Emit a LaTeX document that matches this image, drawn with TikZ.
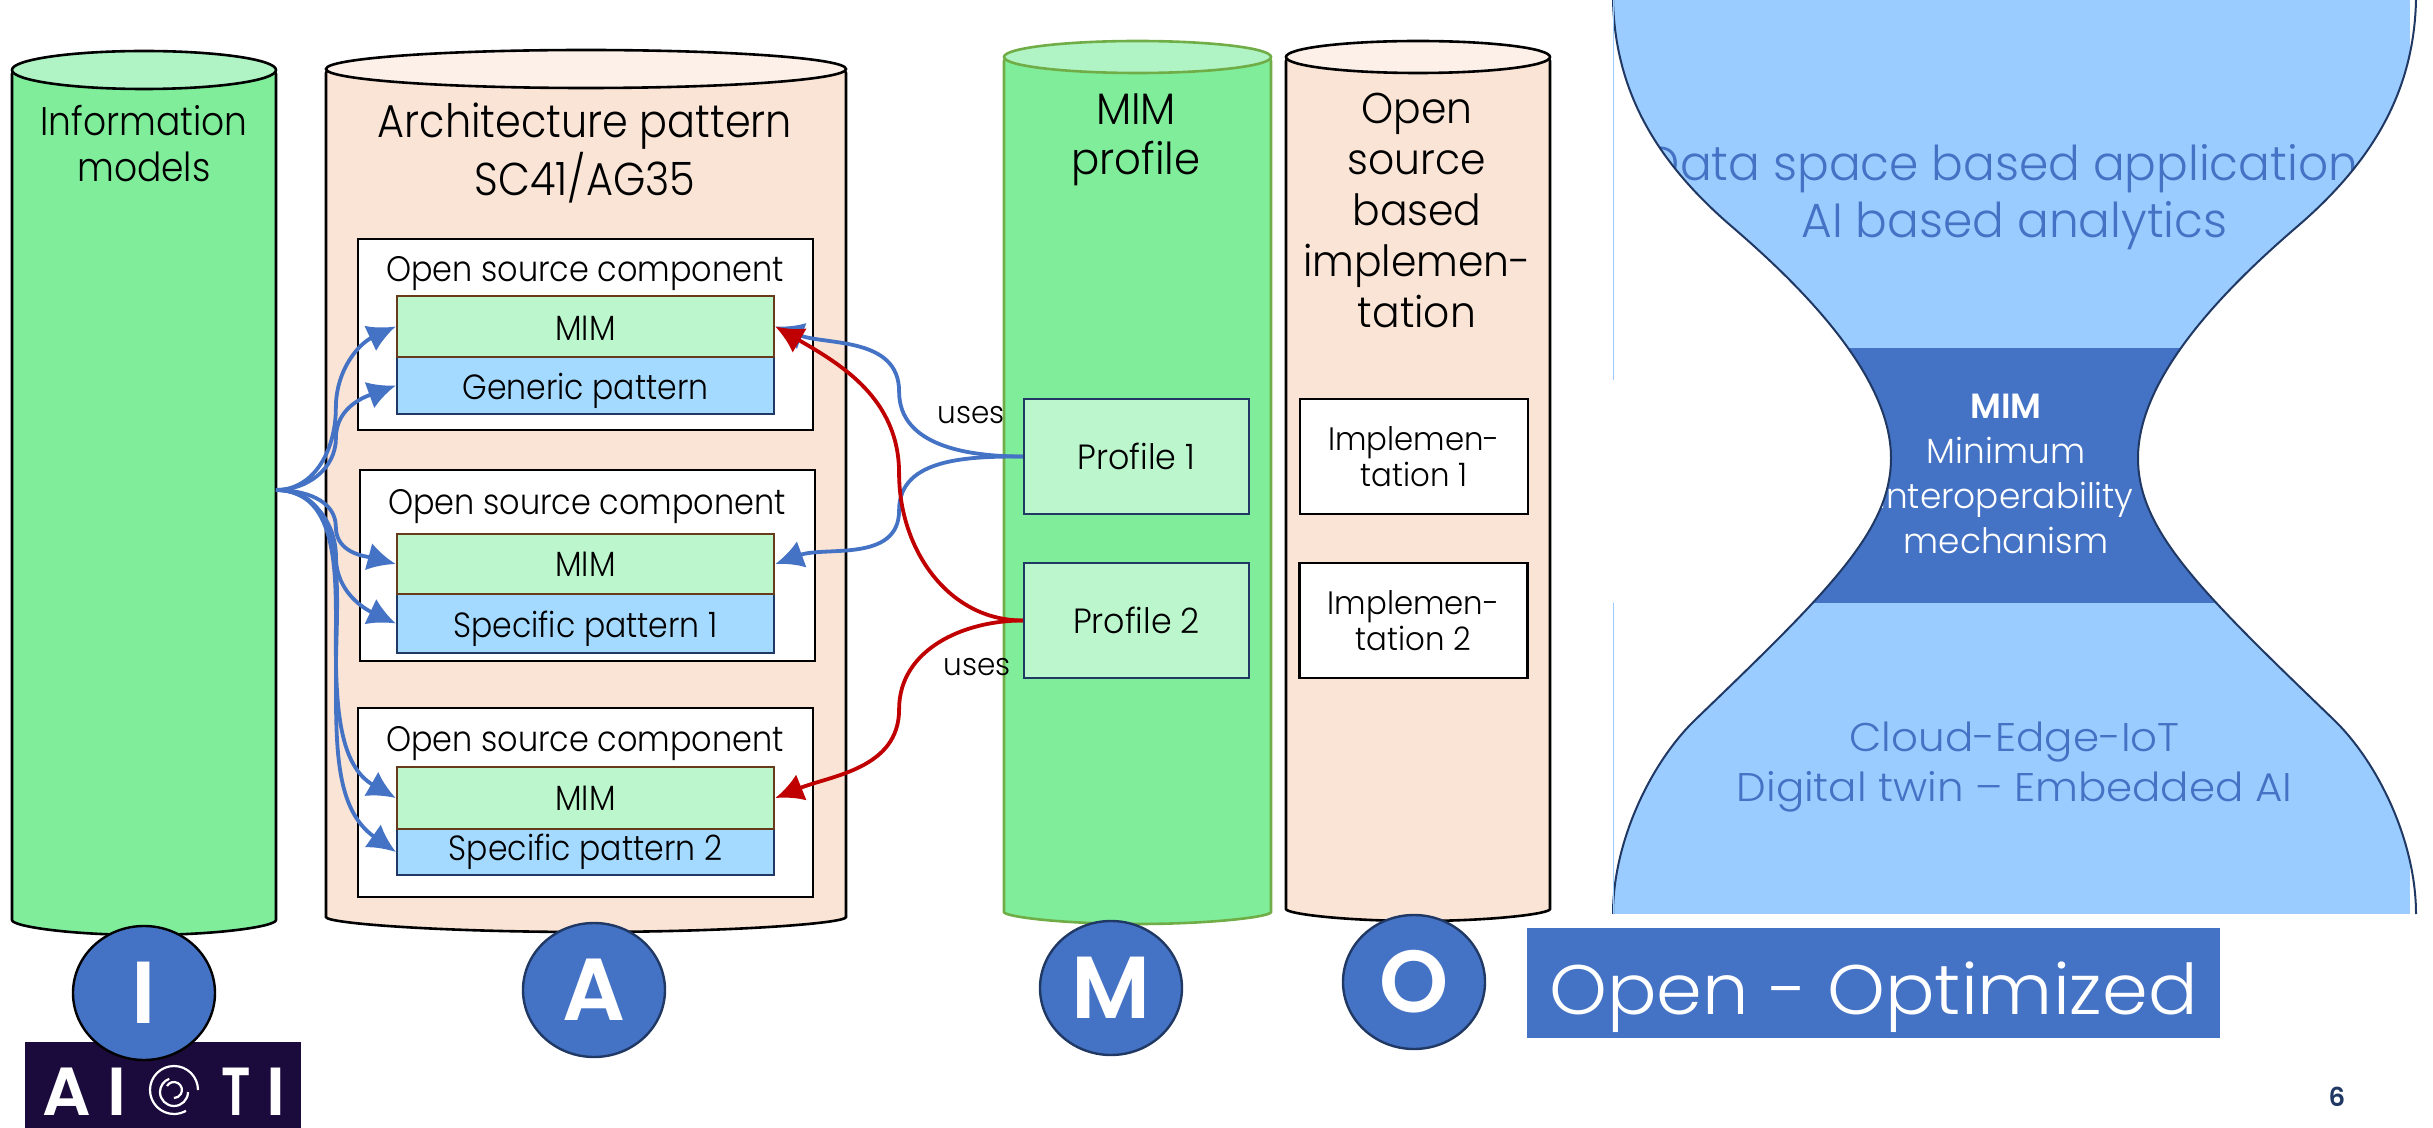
\documentclass[tikz,border=0pt]{standalone}
\usepackage{fontspec}
\setmainfont{Poppins Light}[BoldFont=Poppins SemiBold]
\newfontfamily\narrowfont{Poppins Light}[FakeStretch=0.9]
\newfontfamily\midfont{Poppins Light}[FakeStretch=0.95]
\newfontfamily\widefont{Poppins Light}[FakeStretch=1.05,BoldFont=Poppins SemiBold]
\newfontfamily\evenfont{Poppins Light}[FakeStretch=0.98,BoldFont=Poppins SemiBold]
\newfontfamily\badgefont{Poppins SemiBold}
\usetikzlibrary{arrows.meta,calc,shapes.geometric}

\definecolor{cylgreen}{HTML}{7FED9A}
\definecolor{cylgreentop}{HTML}{B0F4C6}
\definecolor{cylpeach}{HTML}{FAE4D6}
\definecolor{cylpeachtop}{HTML}{FDF0E8}
\definecolor{mimgreen}{HTML}{BBF6CC}
\definecolor{patblue}{HTML}{A4DAFF}
\definecolor{hourblue}{HTML}{9BCCFF}
\definecolor{mainblue}{HTML}{4472C4}
\definecolor{navyline}{HTML}{203864}
\definecolor{brownline}{HTML}{663A1A}
\definecolor{logopurple}{HTML}{1B0A3C}
\definecolor{usesred}{HTML}{C00000}
\definecolor{leafgreen}{HTML}{70AD47}

\tikzset{
	compbox/.style={draw=black,fill=white,line width=1.3pt,inner sep=0pt,minimum width=227.5pt},
	mimbox/.style={draw=brownline,fill=mimgreen,line width=1.3pt,inner sep=0pt,minimum width=188.5pt,font=\narrowfont\fontsize{17.5}{20}\selectfont},
	patbox/.style={draw=navyline,fill=patblue,line width=1.1pt,inner sep=0pt,minimum width=188.5pt,font=\narrowfont\fontsize{17.5}{20}\selectfont},
	profilebox/.style={draw=navyline,fill=mimgreen,line width=1.1pt,inner sep=0pt,minimum width=112.5pt,minimum height=57.5pt,font=\midfont\fontsize{17.5}{20}\selectfont},
	implbox/.style={draw=black,fill=white,line width=1.3pt,inner sep=0pt,minimum width=114pt,minimum height=57.5pt,align=center,font=\midfont\fontsize{16.2}{18}\selectfont},
	comptitle/.style={font=\narrowfont\fontsize{17.7}{20}\selectfont},
	badge/.style={draw=#1,fill=mainblue,line width=1.2pt,ellipse,inner sep=0pt,minimum width=71pt,minimum height=67pt,text=white,font=\badgefont\fontsize{44}{44}\selectfont},
	logoletter/.style={text=white,inner sep=0pt,font=\badgefont\fontsize{34}{34}\selectfont},
	blueuse/.style={draw=mainblue,line width=1.9pt,-{Latex[length=14pt,width=14pt]}},
	reduse/.style={draw=usesred,line width=1.9pt,-{Latex[length=14pt,width=14pt]}},
	usestext/.style={inner sep=0pt,font=\midfont\fontsize{15.5}{16}\selectfont},
}

% left, right, top, bottom, y radius, body, lid, line
\newcommand{\cylbody}[8]{
	\filldraw[fill=#6,draw=#8,line width=1.3pt,rounded corners=2pt] (#1,#3)--(#1,#4)
		arc[start angle=180,end angle=0,x radius={(#2-#1)/2},y radius=#5]--(#2,#3)--cycle;
	\filldraw[fill=#7,draw=#8,line width=1.3pt] ({(#1+#2)/2},#3) ellipse [x radius={(#2-#1)/2},y radius=#5];
}
\newcommand{\hourside}{(1613,0) .. controls (1615,90) and (1655,160) .. (1730,225)
	.. controls (1800,285) and (1891,375) .. (1891,458)
	.. controls (1891,530) and (1830,590) .. (1696,719)
	.. controls (1652,761) and (1613,840) .. (1613,914)}

\begin{document}
\begin{tikzpicture}[x=0.5pt,y=-0.5pt]
	\useasboundingbox (0,0) rectangle (2433,1128);

	\cylbody{12}{276}{70}{916}{19}{cylgreen}{cylgreentop}{black}
	\cylbody{326}{846}{69}{913}{19}{cylpeach}{cylpeachtop}{black}
	\cylbody{1004}{1271}{57}{908}{16}{cylgreen}{cylgreentop}{leafgreen}
	\cylbody{1286}{1550}{57}{905}{16}{cylpeach}{cylpeachtop}{black}

	\node[align=center,font=\narrowfont\fontsize{20}{23}\selectfont] (infoTitle) at (144,144) {Information\\models};
	\node[align=center,font=\narrowfont\fontsize{23}{24}\selectfont] (archTitle) at (585,153) {Architecture pattern\\SC41/AG35};
	\node[align=center,font=\midfont\fontsize{22}{25}\selectfont] (mimTitle) at (1136,140) {MIM\\profile};
	\node[align=center,font=\midfont\fontsize{21.5}{25.5}\selectfont] (openTitle) at (1417,210) {Open\\source\\based\\implemen-\\tation};

	\node[compbox,minimum height=95.5pt] (compA) at (585.5,334.5) {};
	\node[compbox,minimum height=95.5pt] (compB) at (587.5,565.5) {};
	\node[compbox,minimum height=94.5pt] (compC) at (585.5,802.5) {};
	\node[comptitle] (titleA) at (585,274) {Open source component};
	\node[comptitle] (titleB) at (587,507) {Open source component};
	\node[comptitle] (titleC) at (585,744) {Open source component};

	\node[patbox,minimum height=28.5pt,text height=17.5pt,text depth=3.7pt] (genericA) at (585.5,385.5) {Generic pattern};
	\node[mimbox,minimum height=30.5pt,text height=14pt,text depth=0pt] (mimA) at (585.5,326.5) {MIM};
	\node[patbox,minimum height=29.5pt,text height=17.5pt,text depth=3.7pt] (specificB) at (585.5,623.5) {Specific pattern 1};
	\node[mimbox,minimum height=30pt] (mimB) at (585.5,564) {MIM};
	\node[patbox,minimum height=23pt] (specificC) at (585.5,852) {Specific pattern 2};
	\node[mimbox,minimum height=31pt] (mimC) at (585.5,798) {MIM};

	\node[profilebox] (profileA) at (1136.5,456.5) {Profile 1};
	\node[profilebox] (profileB) at (1136.5,620.5) {Profile 2};
	\node[implbox] (implA) at (1414,456.5) {Implemen-\\tation 1};
	\node[implbox] (implB) at (1413.5,620.5) {Implemen-\\tation 2};

	\coordinate (infoOut) at (276,490);
	\foreach \target/\inangle in {mimA/205,genericA/200}
		\draw[blueuse] (infoOut) to[out=0,in=-90] ($(infoOut)!.5!(\target.west)$) to[out=90,in=\inangle] (\target.west);
	\foreach \target/\inangle in {mimB/165,specificB/155,mimC/150,specificC/145}
		\draw[blueuse] (infoOut) to[out=0,in=90] ($(infoOut)!.5!(\target.west)$) to[out=-90,in=\inangle] (\target.west);

	\draw[blueuse] (profileA.west) to[out=180,in=-90] ($(profileA.west)!.5!(mimA.east)$) to[out=90,in=-20] (mimA.east);
	\draw[blueuse] (profileA.west) to[out=180,in=90] ($(profileA.west)!.5!(mimB.east)$) to[out=-90,in=20] (mimB.east);
	\draw[reduse] (profileB.west) to[out=180,in=-90] ($(profileB.west)!.5!(mimA.east)$) to[out=90,in=-30] (mimA.east);
	\draw[reduse] (profileB.west) to[out=180,in=90] ($(profileB.west)!.5!(mimC.east)$) to[out=-90,in=22] (mimC.east);
	\node[usestext] (usesA) at (971,415) {uses};
	\node[usestext] (usesB) at (977,667) {uses};

	% hourglass, the white sides lie over the text
	\fill[hourblue] (1613,0) rectangle (2410,914);
	\fill[mainblue] (1780,348) rectangle (2250,603);
	\node[align=center,text=mainblue,font=\evenfont\fontsize{24}{28.5}\selectfont] (topText) at (2014.5,197) {Data space based applications\\AI based analytics};
	\node[align=center,text=white,font=\evenfont\fontsize{17.5}{22.5}\selectfont] (midText) at (2006,474) {\textbf{MIM}\\Minimum\\Interoperability\\mechanism};
	\node[align=center,text=mainblue,font=\widefont\fontsize{20}{25}\selectfont] (lowText) at (2014.5,767) {Cloud-Edge-IoT\\Digital twin – Embedded AI};
	\fill[white] \hourside--cycle;
	\draw[navyline,line width=1pt] \hourside;
	\begin{scope}[shift={(4029,0)},xscale=-1]
		\fill[white] \hourside--cycle;
		\draw[navyline,line width=1pt] \hourside;
	\end{scope}
	\draw[hourblue,line width=0.5pt] (1613,0)--(1613,380);
	\draw[hourblue,line width=0.5pt] (1613,603)--(1613,914);

	\node[fill=mainblue,text=white,inner sep=0pt,minimum width=346.5pt,minimum height=55pt,text height=38pt,text depth=7pt,font=\widefont\fontsize{35}{40}\selectfont] (banner) at (1873.5,983) {Open - Optimized};

	% logo
	\fill[logopurple] (25,1042) rectangle (301,1128);
	\node[logoletter] (logoA) at (67,1092) {A};
	\node[logoletter] (logoI) at (117,1092) {I};
	\node[logoletter] (logoT) at (236,1092) {\scalebox{.75}[1]{T}};
	\node[logoletter] (logoJ) at (276,1092) {I};
	\draw[white,line width=1.1pt] (198,1090) arc[start angle=0,end angle=-300,radius=24];
	\draw[white,line width=1.1pt] (188,1092) arc[start angle=0,end angle=250,radius=14];
	\draw[white,line width=1.1pt] (167,1086) arc[start angle=-150,end angle=90,radius=8];

	\node[badge=black] (badgeI) at (144,993) {I};
	\node[badge=navyline] (badgeA) at (594,990) {A};
	\node[badge=navyline] (badgeM) at (1111,988) {M};
	\node[badge=navyline] (badgeO) at (1414,982) {O};

	\node[inner sep=0pt,text=navyline,font=\badgefont\fontsize{13}{13}\selectfont] (pageNum) at (2337,1097) {6};
\end{tikzpicture}
\end{document}
